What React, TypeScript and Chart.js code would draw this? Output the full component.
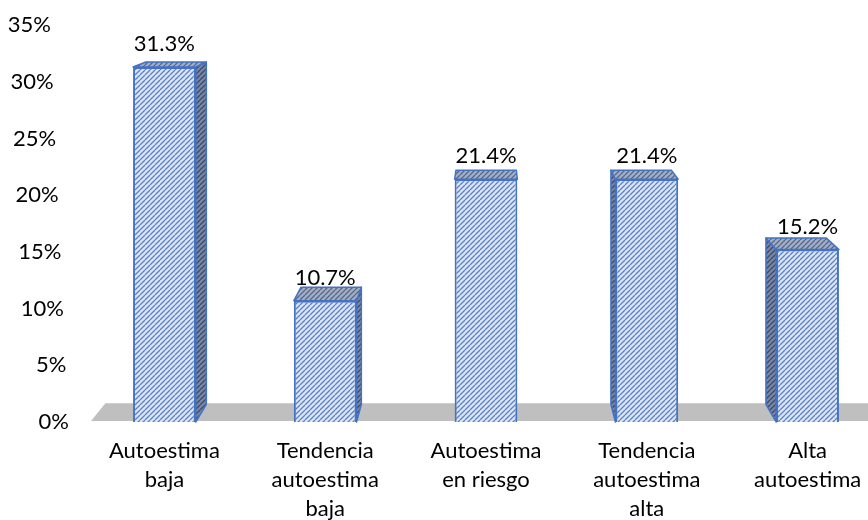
import React, { useEffect, useRef } from "react";
import { Chart, registerables } from "chart.js";

Chart.register(...registerables);

const categories: string[][] = [
  ["Autoestima", "baja"],
  ["Tendencia", "autoestima", "baja"],
  ["Autoestima", "en riesgo"],
  ["Tendencia", "autoestima", "alta"],
  ["Alta", "autoestima"],
];
const percentages: number[] = [31.3, 10.7, 21.4, 21.4, 15.2];
const yMax = 35;
const yStep = 5;

const FONT = "Lato, Carlito, 'Liberation Sans', sans-serif";
const FONT_SIZE = 22;

// simple perspective: back point = front + K * (V - front)
const VX = 490;
const VY = -70;
const K = 0.036;

function makeHatch(bg: string, line: string, size: number, width: number) {
  const c = document.createElement("canvas");
  c.width = size;
  c.height = size;
  const g = c.getContext("2d")!;
  g.fillStyle = bg;
  g.fillRect(0, 0, size, size);
  g.strokeStyle = line;
  g.lineWidth = width;
  g.beginPath();
  for (const o of [-size, 0, size]) {
    g.moveTo(o, size);
    g.lineTo(o + size, 0);
  }
  g.stroke();
  return c;
}

export default function App() {
  const ref = useRef<HTMLCanvasElement>(null);

  useEffect(() => {
    const canvas = ref.current!;
    const ctx0 = canvas.getContext("2d")!;
    const frontPat = ctx0.createPattern(makeHatch("#dce5f5", "#5a80c6", 5, 1.3), "repeat")!;
    const topPat = ctx0.createPattern(makeHatch("#a3afc4", "#56678a", 5, 1.3), "repeat")!;
    const sidePat = ctx0.createPattern(makeHatch("#7a87a1", "#3b4b70", 5, 1.3), "repeat")!;

    const back = (x: number, y: number) => [x + K * (VX - x), y + K * (VY - y)];

    const poly = (ctx: CanvasRenderingContext2D, pts: number[][], fill: any, stroke: string, lw: number) => {
      ctx.beginPath();
      ctx.moveTo(pts[0][0], pts[0][1]);
      for (let i = 1; i < pts.length; i++) ctx.lineTo(pts[i][0], pts[i][1]);
      ctx.closePath();
      ctx.fillStyle = fill;
      ctx.fill();
      if (lw > 0) {
        ctx.strokeStyle = stroke;
        ctx.lineWidth = lw;
        ctx.lineJoin = "round";
        ctx.stroke();
      }
    };

    const depthPlugin = {
      id: "depth",
      beforeDatasetsDraw(chart: any) {
        const ctx: CanvasRenderingContext2D = chart.ctx;
        const area = chart.chartArea;
        const y0 = chart.scales.y.getPixelForValue(0);
        ctx.save();
        // floor
        const fl = area.left + 7;
        const fr = chart.width + 40;
        const bl = back(fl, y0 - 1);
        const br = back(fr, y0 - 1);
        poly(ctx, [[fl, y0 - 1], [fr, y0 - 1], br, bl], "#bfbfbf", "", 0);
        // side & top faces
        const meta = chart.getDatasetMeta(0);
        meta.data.forEach((bar: any) => {
          const L = bar.x - bar.width / 2;
          const R = bar.x + bar.width / 2;
          const T = bar.y;
          const B = bar.base;
          if (bar.x < VX - 5) {
            poly(ctx, [[R, T], back(R, T), back(R, B), [R, B]], sidePat, "#4472c4", 1.5);
          } else if (bar.x > VX + 5) {
            poly(ctx, [[L, T], back(L, T), back(L, B), [L, B]], sidePat, "#4472c4", 1.5);
          }
          poly(ctx, [[L, T], [R, T], back(R, T), back(L, T)], topPat, "#4472c4", 1.5);
        });
        ctx.restore();
      },
      afterDatasetsDraw(chart: any) {
        const ctx: CanvasRenderingContext2D = chart.ctx;
        const meta = chart.getDatasetMeta(0);
        ctx.save();
        ctx.font = `${FONT_SIZE}px ${FONT}`;
        ctx.fillStyle = "#000";
        ctx.textAlign = "center";
        ctx.textBaseline = "middle";
        meta.data.forEach((bar: any, i: number) => {
          ctx.fillText(`${percentages[i].toFixed(1)}%`, bar.x, bar.y - 23);
        });
        // y tick labels (tilted perspective axis)
        const ys = chart.scales.y;
        const yTop = ys.getPixelForValue(yMax);
        const yBot = ys.getPixelForValue(0);
        ctx.textAlign = "right";
        ys.ticks.forEach((t: any) => {
          const y = ys.getPixelForValue(t.value);
          const xr = 51 + ((y - yTop) * 18) / (yBot - yTop);
          ctx.fillText(`${t.value}%`, xr, y);
        });
        ctx.restore();
      },
    };

    const chart = new Chart(canvas, {
      type: "bar",
      data: {
        labels: categories,
        datasets: [
          {
            data: percentages,
            backgroundColor: frontPat,
            borderColor: "#4472c4",
            borderWidth: 2,
            barPercentage: 0.39,
            categoryPercentage: 1,
          },
        ],
      },
      options: {
        responsive: false,
        animation: false,
        events: [],
        layout: { padding: { top: 25, left: 0, right: 0, bottom: 0 } },
        plugins: {
          legend: { display: false },
          tooltip: { enabled: false },
          title: { display: false },
        },
        scales: {
          x: {
            grid: { display: false, drawTicks: false },
            border: { display: false },
            ticks: {
              color: "#000",
              padding: 15,
              maxRotation: 0,
              autoSkip: false,
              font: { family: FONT, size: FONT_SIZE, lineHeight: 1.3 },
            },
            afterFit(scale: any) {
              scale.height = 98;
            },
          },
          y: {
            min: 0,
            max: yMax,
            grid: { display: false, drawTicks: false },
            border: { display: false },
            ticks: { display: false, stepSize: yStep },
            afterFit(scale: any) {
              scale.width = 84;
            },
          },
        },
      },
      plugins: [depthPlugin],
    });
    return () => chart.destroy();
  }, []);

  return (
    <div
      style={{
        position: "absolute",
        left: 0,
        top: 0,
        width: 868,
        height: 520,
        overflow: "hidden",
        background: "#fff",
      }}
    >
      <canvas ref={ref} width={888} height={520} style={{ display: "block" }} />
    </div>
  );
}
